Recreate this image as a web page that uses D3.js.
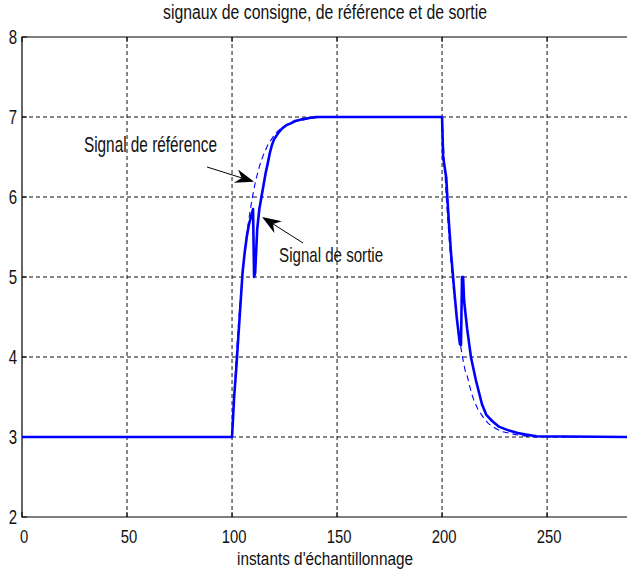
<!DOCTYPE html>
<html>
<head>
<meta charset="utf-8">
<script src="https://cdn.jsdelivr.net/npm/d3@7"></script>
<style>
  body { margin: 0; background: #fff; }
  text { font-family: "Liberation Sans", Arial, sans-serif; fill: #111; }
</style>
</head>
<body>
<script>
// signal de sortie (trait plein épais)
var tOut = [0, 100, 101, 102, 103, 104, 105, 106, 107, 108, 109, 110, 110.5, 111, 112, 113, 114, 115, 116, 117, 118, 119, 120, 122, 124, 126, 128, 130, 133, 136, 140,
            200, 200.5, 202, 202.5, 203.3, 204.3, 205.7, 207, 208.5, 209, 209.5, 210, 210.5, 211.9, 213.8, 216.2, 219, 221, 223.8, 227, 231.9, 236, 240, 245, 289];
var vOut = [3, 3, 3.5, 3.85, 4.25, 4.65, 5.05, 5.3, 5.5, 5.65, 5.75, 5.85, 5.0, 5.05, 5.6, 5.85, 6.0, 6.15, 6.3, 6.42, 6.55, 6.65, 6.72, 6.8, 6.86, 6.9, 6.92, 6.95, 6.97, 6.985, 7,
            7, 6.5, 6.24, 6.0, 5.66, 5.29, 4.86, 4.49, 4.16, 4.15, 5.0, 5.0, 4.7, 4.36, 3.99, 3.7, 3.41, 3.28, 3.2, 3.13, 3.08, 3.05, 3.03, 3.01, 3.0];

// signal de référence (tirets fins)
var tRef = [0, 100, 101, 102, 103, 104, 105, 106, 107, 108, 109, 110, 111, 112, 113, 114, 115, 116, 117, 118, 119, 120, 122, 124, 126, 128, 130, 135, 140, 145,
            200, 201, 202, 203, 204, 205, 206, 207, 208, 209, 210, 211, 212, 213, 214, 215, 216, 217, 218, 219, 220, 222, 224, 226, 228, 230, 235, 240, 245, 289];
var vRef = [3, 3, 3.53, 3.99, 4.39, 4.74, 5.04, 5.30, 5.53, 5.72, 5.89, 6.04, 6.17, 6.28, 6.38, 6.46, 6.53, 6.59, 6.65, 6.69, 6.73, 6.77, 6.83, 6.87, 6.90, 6.93, 6.94, 6.97, 6.99, 7,
            7, 6.47, 6.01, 5.61, 5.26, 4.96, 4.70, 4.47, 4.28, 4.11, 3.96, 3.83, 3.76, 3.65, 3.55, 3.47, 3.41, 3.35, 3.31, 3.27, 3.23, 3.17, 3.13, 3.10, 3.07, 3.06, 3.03, 3.01, 3, 3];

var xTicks = [0, 50, 100, 150, 200, 250];
var yTicks = [2, 3, 4, 5, 6, 7, 8];

var W = 627, H = 573;
var x = d3.scaleLinear().domain([0, 289]).range([22, 629]);
var y = d3.scaleLinear().domain([2, 8]).range([517, 37]);

var svg = d3.select("body").append("svg")
    .attr("width", W).attr("height", H);

// condensed text helper
function label(s, px, py, anchor, size, sx) {
  return svg.append("text")
    .attr("transform", "translate(" + px + "," + py + ") scale(" + sx + ",1)")
    .attr("text-anchor", anchor)
    .style("font-size", size + "px")
    .text(s);
}

// grille
svg.append("g").selectAll("line").data(xTicks.slice(1)).enter().append("line")
  .attr("x1", d => x(d)).attr("x2", d => x(d))
  .attr("y1", y(2)).attr("y2", y(8))
  .attr("stroke", "#111").attr("stroke-dasharray", "4,3");
svg.append("g").selectAll("line").data(yTicks.slice(1, -1)).enter().append("line")
  .attr("x1", x(0)).attr("x2", W)
  .attr("y1", d => y(d)).attr("y2", d => y(d))
  .attr("stroke", "#111").attr("stroke-dasharray", "4,3");

// cadre
svg.append("path")
  .attr("d", "M" + W + "," + y(8) + "H" + x(0) + "V" + y(2) + "H" + W)
  .attr("fill", "none").attr("stroke", "#000").attr("stroke-width", 1.2);

// petites graduations
xTicks.forEach(function(d) {
  svg.append("line").attr("x1", x(d)).attr("x2", x(d)).attr("y1", y(2)).attr("y2", y(2) - 5).attr("stroke", "#000");
  svg.append("line").attr("x1", x(d)).attr("x2", x(d)).attr("y1", y(8)).attr("y2", y(8) + 5).attr("stroke", "#000");
  label(String(d), x(d) + 2, 543, "middle", 19, 0.78);
});
yTicks.forEach(function(d) {
  svg.append("line").attr("x1", x(0)).attr("x2", x(0) + 5).attr("y1", y(d)).attr("y2", y(d)).attr("stroke", "#000");
  label(String(d), 17, y(d) + 7, "end", 20, 0.75);
});

var line = d3.line().x(d => x(d[0])).y(d => y(d[1]));

svg.append("path")
  .datum(d3.zip(tRef, vRef))
  .attr("d", line)
  .attr("fill", "none").attr("stroke", "#0000ff")
  .attr("stroke-width", 1.1).attr("stroke-dasharray", "6,4");

svg.append("path")
  .datum(d3.zip(tOut, vOut))
  .attr("d", line)
  .attr("fill", "none").attr("stroke", "#0000ff")
  .attr("stroke-width", 2.6).attr("stroke-linejoin", "round");

// annotations
function arrow(t0, v0, t1, v1) {
  var x0 = x(t0), y0 = y(v0), x1 = x(t1), y1 = y(v1);
  var a = Math.atan2(y1 - y0, x1 - x0);
  var L = 19, hw = 7, notch = 13;
  var ca = Math.cos(a), sa = Math.sin(a);
  svg.append("line").attr("x1", x0).attr("y1", y0)
    .attr("x2", x1 - notch * ca).attr("y2", y1 - notch * sa)
    .attr("stroke", "#000").attr("stroke-width", 1);
  var p = [
    [x1, y1],
    [x1 - L * ca - hw * sa, y1 - L * sa + hw * ca],
    [x1 - notch * ca, y1 - notch * sa],
    [x1 - L * ca + hw * sa, y1 - L * sa - hw * ca]
  ];
  svg.append("path").attr("d", "M" + p.join("L") + "Z").attr("fill", "#000");
}

svg.append("text").attr("x", x(29.5)).attr("y", y(6.5625))
  .attr("textLength", 133).attr("lengthAdjust", "spacingAndGlyphs")
  .style("font-size", "22px").text("Signal de référence");
arrow(88.1, 6.375, 110.5, 6.19);

svg.append("text").attr("x", x(122.4)).attr("y", y(5.19))
  .attr("textLength", 104).attr("lengthAdjust", "spacingAndGlyphs")
  .style("font-size", "21px").text("Signal de sortie");
arrow(133.8, 5.425, 114.3, 5.75);

// titres
svg.append("text").attr("x", 163).attr("y", 19)
  .attr("textLength", 324).attr("lengthAdjust", "spacingAndGlyphs")
  .style("font-size", "20px").text("signaux de consigne, de référence et de sortie");
svg.append("text").attr("x", 237).attr("y", 565)
  .attr("textLength", 176).attr("lengthAdjust", "spacingAndGlyphs")
  .style("font-size", "18px").text("instants d'échantillonnage");
</script>
</body>
</html>
